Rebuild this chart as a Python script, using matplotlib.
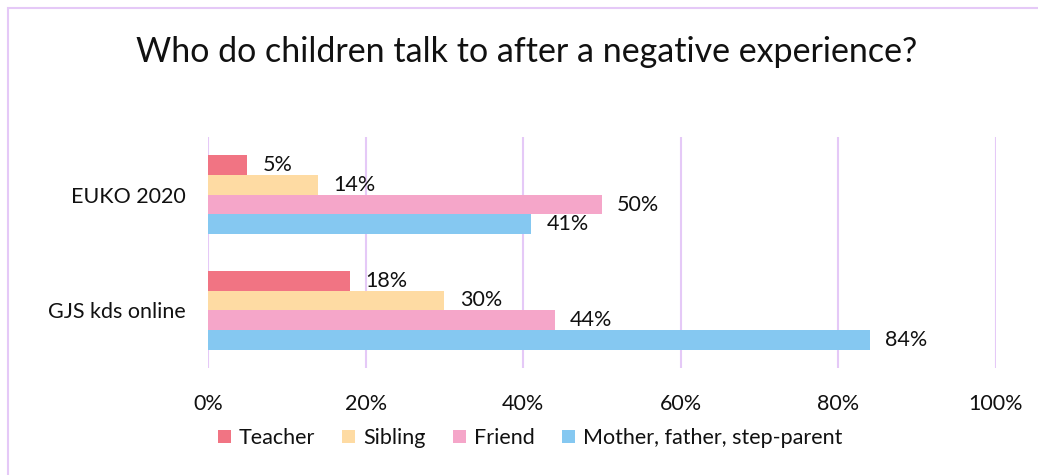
import matplotlib
matplotlib.use("Agg")
import matplotlib.pyplot as plt
from matplotlib.patches import Rectangle
import numpy as np

plt.rcParams['font.family'] = ['Lato', 'DejaVu Sans']

# data
groups = ["EUKO 2020", "GJS kds online"]
series = ["Teacher", "Sibling", "Friend", "Mother, father, step-parent"]
values = {
    "Teacher": [5, 18],
    "Sibling": [14, 30],
    "Friend": [50, 44],
    "Mother, father, step-parent": [41, 84],
}
colors = ["#F17483", "#FEDBA3", "#F5A6C9", "#85C8F1"]
xticks = [0, 20, 40, 60, 80, 100]

fs = 15.5
fig = plt.figure(figsize=(10.38, 4.75), dpi=100)
ax = fig.add_axes([208/1038, 1-368/475, (996-208)/1038, (368-137)/475])

# frame around the chart
fig.patches.append(Rectangle((8/1038, -0.1), 1.2, 1 - 8/475 + 0.1, transform=fig.transFigure,
                             fill=False, edgecolor="#E5C9F7", linewidth=1.5))

ypos = np.array([1, 0])  # EUKO on top
h = 0.17
for i, (name, col) in enumerate(zip(series, colors)):
    y = ypos + (1.5 - i) * h
    bars = ax.barh(y, values[name], height=h, color=col, label=name, zorder=3)
    for b, v in zip(bars, values[name]):
        ax.annotate(f"{v}%", (b.get_width(), b.get_y() + h/2), xytext=(11, 0),
                    textcoords="offset points", va="center", ha="left",
                    fontsize=fs, color="#111111")

ax.set_xlim(0, 100)
ax.set_ylim(-0.5, 1.5)
ax.set_xticks(xticks)
ax.set_xticklabels([f"{t}%" for t in xticks], fontsize=fs, color="#111111")
ax.set_yticks(ypos)
ax.set_yticklabels(groups, fontsize=fs, color="#111111")
ax.tick_params(length=0)
ax.tick_params(axis="x", pad=19)
ax.tick_params(axis="y", pad=16)
ax.grid(axis="x", color="#E5C9F7", linewidth=1.5, zorder=0)
for s in ax.spines.values():
    s.set_visible(False)

fig.text(527/1038, 1-52/475, "Who do children talk to after a negative experience?",
         ha="center", va="center", fontsize=24.5, color="#111111")

fig.legend(loc="center", bbox_to_anchor=(530/1038, 1-438/475), ncol=4, frameon=False,
           fontsize=fs, handlelength=0.6, handleheight=0.6, handletextpad=0.35,
           columnspacing=1.3, labelcolor="#111111")

fig.savefig("out.png", dpi=100)
